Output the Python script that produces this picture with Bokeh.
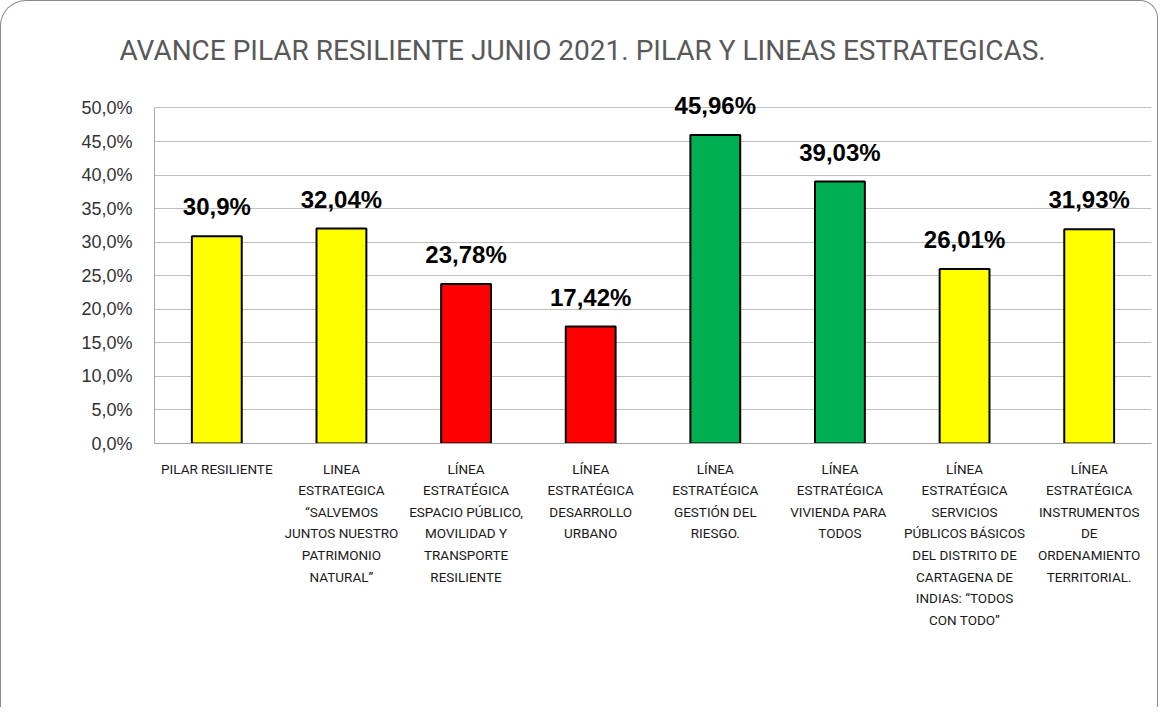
from bokeh.plotting import figure
from bokeh.models import FactorRange, Range1d, FixedTicker, ColumnDataSource, LabelSet
from bokeh.core.properties import value
from bokeh.embed import file_html
from bokeh.resources import INLINE

title_text = "AVANCE PILAR RESILIENTE JUNIO 2021. PILAR Y LINEAS ESTRATEGICAS."

categories = [
    "PILAR RESILIENTE",
    "LINEA\nESTRATEGICA\n\u201cSALVEMOS\nJUNTOS NUESTRO\nPATRIMONIO\nNATURAL\u201d",
    "LÍNEA\nESTRATÉGICA\nESPACIO PÚBLICO,\nMOVILIDAD Y\nTRANSPORTE\nRESILIENTE",
    "LÍNEA\nESTRATÉGICA\nDESARROLLO\nURBANO",
    "LÍNEA\nESTRATÉGICA\nGESTIÓN DEL\nRIESGO.",
    "LÍNEA\nESTRATÉGICA\nVIVIENDA  PARA\nTODOS",
    "LÍNEA\nESTRATÉGICA\nSERVICIOS\nPÚBLICOS BÁSICOS\nDEL DISTRITO DE\nCARTAGENA DE\nINDIAS: \u201cTODOS\nCON TODO\u201d",
    "LÍNEA\nESTRATÉGICA\nINSTRUMENTOS\nDE\nORDENAMIENTO\nTERRITORIAL.",
]
values = [30.9, 32.04, 23.78, 17.42, 45.96, 39.03, 26.01, 31.93]
value_labels = ["30,9%", "32,04%", "23,78%", "17,42%", "45,96%", "39,03%", "26,01%", "31,93%"]
colors = ["#FFFF00", "#FFFF00", "#FF0000", "#FF0000", "#00B050", "#00B050", "#FFFF00", "#FFFF00"]
y_ticks = [0, 5, 10, 15, 20, 25, 30, 35, 40, 45, 50]
y_tick_labels = ["0,0%", "5,0%", "10,0%", "15,0%", "20,0%", "25,0%", "30,0%", "35,0%", "40,0%", "45,0%", "50,0%"]

src = ColumnDataSource(dict(cat=categories, val=values, lab=value_labels, col=colors))

p = figure(
    width=1158, height=707,
    x_range=FactorRange(factors=categories, range_padding=0),
    y_range=Range1d(0, 53.5),
    output_backend="svg", toolbar_location=None,
    min_border_left=153, min_border_right=8, min_border_top=83, min_border_bottom=265,
)
p.styles = {
    "border-top": "1.5px solid #8c8c8c",
    "border-left": "1.5px solid #8c8c8c",
    "border-right": "1.5px solid #8c8c8c",
    "border-radius": "26px 18px 0 0",
    "box-sizing": "border-box",
}
p.outline_line_color = None
p.background_fill_color = "white"
p.border_fill_color = None

p.title.text = title_text
p.title.align = "left"
p.title.offset = -35
p.title.text_font = "Roboto"
p.title.text_font_size = "28px"
p.title.text_font_style = "normal"
p.title.text_color = "#595959"
p.title.standoff = 36

p.vbar(x="cat", top="val", width=0.4, bottom=0, fill_color="col",
       line_color="#000000", line_width=2, source=src)
labels = LabelSet(x="cat", y="val", text="lab", source=src, text_align="center",
                  text_baseline="alphabetic", y_offset=21,
                  text_font=value("Liberation Sans"), text_font_style="bold",
                  text_font_size="24px", text_color="#000000")
p.add_layout(labels)

p.xgrid.grid_line_color = None
p.ygrid.ticker = FixedTicker(ticks=y_ticks)
p.ygrid.grid_line_color = "#BFBFBF"
p.ygrid.grid_line_width = 1.2

p.yaxis.ticker = FixedTicker(ticks=y_ticks)
p.yaxis.bounds = (0, 50)
p.yaxis.major_label_overrides = {t: l for t, l in zip(y_ticks, y_tick_labels)}
p.yaxis.major_tick_line_color = None
p.yaxis.minor_tick_line_color = None
p.yaxis.major_tick_out = 0
p.yaxis.major_tick_in = 0
p.yaxis.major_label_standoff = 22
p.yaxis.axis_line_color = "#A6A6A6"
p.yaxis.major_label_text_font = "Liberation Sans"
p.yaxis.major_label_text_font_size = "18px"
p.yaxis.major_label_text_color = "#333333"

p.xaxis.major_tick_line_color = None
p.xaxis.major_tick_out = 0
p.xaxis.major_tick_in = 0
p.xaxis.major_label_standoff = 17
p.xaxis.axis_line_color = "#A6A6A6"
p.xaxis.major_label_text_font = "Roboto"
p.xaxis.major_label_text_font_size = "13.5px"
p.xaxis.major_label_text_color = "#1a1a1a"
p.xaxis.major_label_text_line_height = 1.35
p.xaxis.major_label_orientation = "horizontal"

open("out.html", "w").write(file_html(p, INLINE))
